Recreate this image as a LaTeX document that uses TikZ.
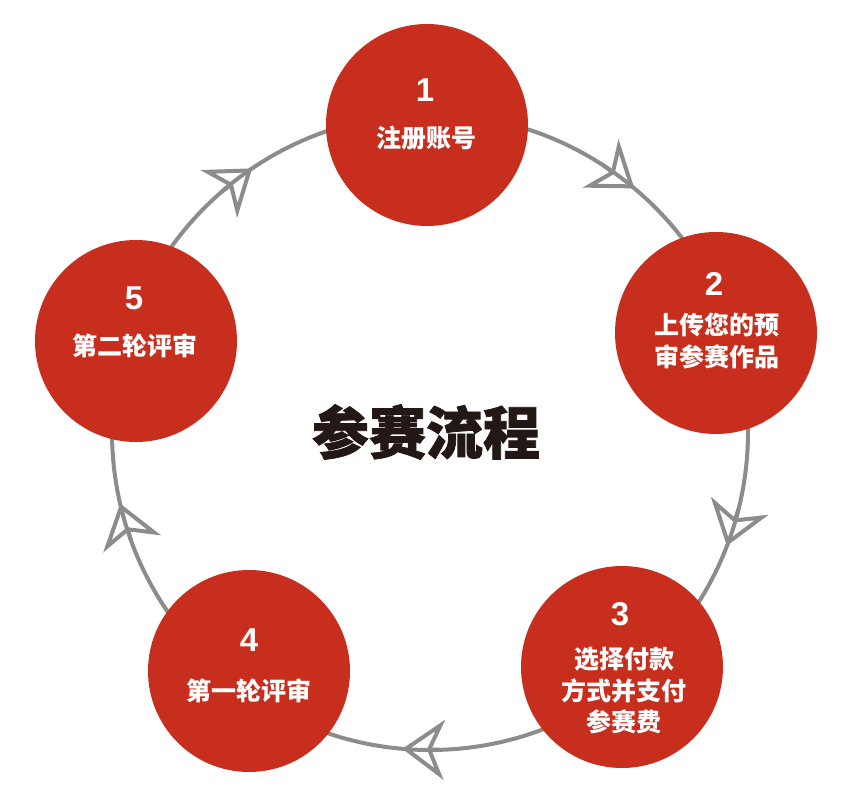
\documentclass[tikz,border=0pt]{standalone}
\usepackage{fontspec}
\setmainfont{Liberation Sans}
\newfontfamily\cjk{Noto Sans CJK SC}
\newfontfamily\cjkhead{Noto Sans CJK SC}[BoldFeatures={FakeBold=1.3}]
\usetikzlibrary{arrows.meta,positioning}
\definecolor{stepred}{RGB}{200,46,30}
\definecolor{ringgray}{RGB}{140,140,140}
\definecolor{titleink}{RGB}{35,24,21}
\begin{document}
\begin{tikzpicture}[x=1pt, y=1pt,
    every node/.style={inner sep=0pt, text=white},
    stepdisc/.style={circle, fill=stepred, minimum size=202pt},
    stepnum/.style={font=\fontsize{33}{33}\selectfont\bfseries},
    steptext/.style={font=\fontsize{25}{31.5}\selectfont\cjk\bfseries, align=center},
    ring/.style={draw=ringgray, line width=4pt},
    flow/.style={ringgray, line width=4pt, -{Stealth[open, length=42pt, width=60pt, inset=13pt, line width=4pt]}},
    title/.style={font=\fontsize{57}{57}\selectfont\cjkhead\bfseries, text=titleink}
  ]
    \useasboundingbox (-430,-374) rectangle (429,432);
    \coordinate (hub) at (0,0);
    \draw[ring] (hub) circle[radius=318];
    \foreach \a in {50,-21,-95,-167,124} {
      \draw[flow] (\a+7:318) -- (\a:318);
    }

    \node[stepdisc] (s1) at (-3,307) {};
    \node[stepdisc] (s2) at (286,99) {};
    \node[stepdisc] (s3) at (192,-235) {};
    \node[stepdisc] (s4) at (-181,-239) {};
    \node[stepdisc] (s5) at (-294,91) {};

    \node[stepnum] (n1) at ([shift={(-2,35)}]s1.center) {1};
    \node[steptext] (t1) at ([shift={(0,-13)}]s1.center) {注册账号};
    \node[stepnum] (n2) at ([shift={(-2,49)}]s2.center) {2};
    \node[steptext] (t2) at ([shift={(1,-8)}]s2.center) {上传您的预\\审参赛作品};
    \node[stepnum] (n3) at ([shift={(-2,53)}]s3.center) {3};
    \node[steptext] (t3) at ([shift={(2,-24)}]s3.center) {选择付款\\方式并支付\\参赛费};
    \node[stepnum] (n4) at ([shift={(0,31)}]s4.center) {4};
    \node[steptext] (t4) at ([shift={(0,-20)}]s4.center) {第一轮评审};
    \node[stepnum] (n5) at ([shift={(-2,43)}]s5.center) {5};
    \node[steptext] (t5) at ([shift={(-1,-5)}]s5.center) {第二轮评审};

    \node[title] (head) at ([xshift=-4pt]hub) {参赛流程};
\end{tikzpicture}
\end{document}
